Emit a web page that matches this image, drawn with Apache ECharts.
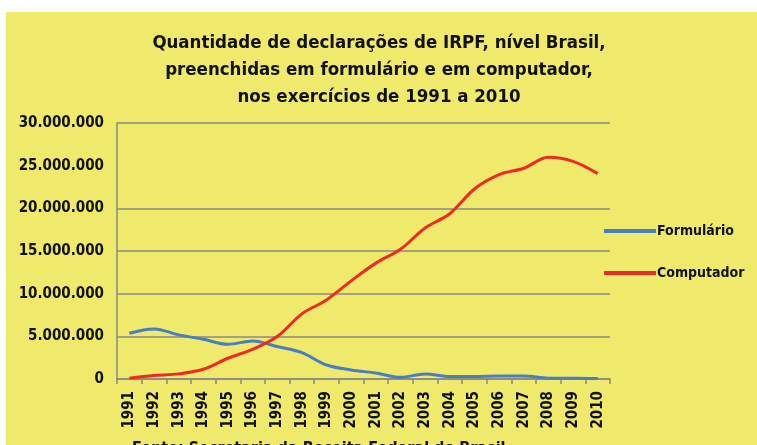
<!DOCTYPE html>
<html><head><meta charset="utf-8">
<script src="https://cdn.jsdelivr.net/npm/echarts@6/dist/echarts.min.js"></script>
<style>html,body{margin:0;padding:0;background:#fff}#c{position:absolute;left:6px;top:12px;width:751px;height:433px;background:#EFE96C}</style>
</head><body><div id="c"></div>
<script>
const years = ['1991','1992','1993','1994','1995','1996','1997','1998','1999','2000','2001','2002','2003','2004','2005','2006','2007','2008','2009','2010'];
const formulario = [5360000,5870000,5170000,4660000,4070000,4460000,3800000,3090000,1640000,1060000,700000,200000,590000,300000,300000,350000,350000,100000,100000,50000];
const computador = [100000,400000,600000,1140000,2430000,3480000,4970000,7630000,9270000,11500000,13580000,15200000,17700000,19370000,22270000,23950000,24700000,25980000,25500000,24070000];
const yTicks = [0,5000000,10000000,15000000,20000000,25000000,30000000];
const titleText = 'Quantidade de declarações de IRPF, nível Brasil,\npreenchidas em formulário e em computador,\nnos exercícios de 1991 a 2010';
const sourceText = 'Fonte: Secretaria da Receita Federal do Brasil';

const chart = echarts.init(document.getElementById('c'), null, {renderer:'canvas'});
const fmt = v => v === 0 ? '0' : v.toString().replace(/\B(?=(\d{3})+(?!\d))/g, '.');
const font = '"Liberation Sans Narrow","DejaVu Sans Condensed","Liberation Sans",sans-serif';
chart.setOption({
  backgroundColor: '#EFE96C',
  animation: false,
  textStyle: {fontFamily: font},
  title: [{
    text: titleText, left: 368, top: 13, textAlign: 'center',
    textStyle: {fontSize: 18.5, fontWeight: 'bold', color: '#111', lineHeight: 27, fontFamily: font}
  },{
    text: sourceText, left: 121, top: 424,
    textStyle: {fontSize: 16, fontWeight: 'bold', color: '#111', fontFamily: font}
  }],
  legend: {
    orient: 'vertical', left: 593, top: 207, itemGap: 28,
    itemWidth: 52, itemHeight: 4, icon: 'rect',
    textStyle: {fontSize: 14, fontWeight: 'bold', color: '#111', fontFamily: font, padding:[0,0,0,-4]},
    data: ['Formulário','Computador']
  },
  grid: {left: 111, right: 147, top: 111, bottom: 66, containLabel: false},
  xAxis: {
    type: 'category', data: years, boundaryGap: true,
    axisLine: {lineStyle: {color: '#888', width: 1.5}},
    axisTick: {show: true, length: 5, lineStyle: {color: '#888', width: 1.5}},
    axisLabel: {rotate: 90, fontSize: 15, fontWeight: 'bold', color: '#111', margin: 12, fontFamily: font}
  },
  yAxis: {
    type: 'value', min: 0, max: 30000000, interval: 5000000,
    axisLine: {show: true, lineStyle: {color: '#888', width: 1.5}},
    axisTick: {show: false},
    splitLine: {show: true, lineStyle: {color: ['#888','#888','#888','#888','#888','rgba(0,0,0,0)','#888'], width: 1.5}},
    axisLabel: {fontSize: 15, fontWeight: 'bold', color: '#111', margin: 13, formatter: fmt, fontFamily: font}
  },
  series: [{
    name: 'Formulário', type: 'line', data: formulario, smooth: 0.35, showSymbol: false,
    lineStyle: {color: '#4A7EC2', width: 3}, itemStyle: {color: '#4A7EC2'}
  },{
    name: 'Computador', type: 'line', data: computador, smooth: 0.35, showSymbol: false,
    lineStyle: {color: '#EE2A24', width: 3}, itemStyle: {color: '#EE2A24'}
  }]
});
</script></body></html>
